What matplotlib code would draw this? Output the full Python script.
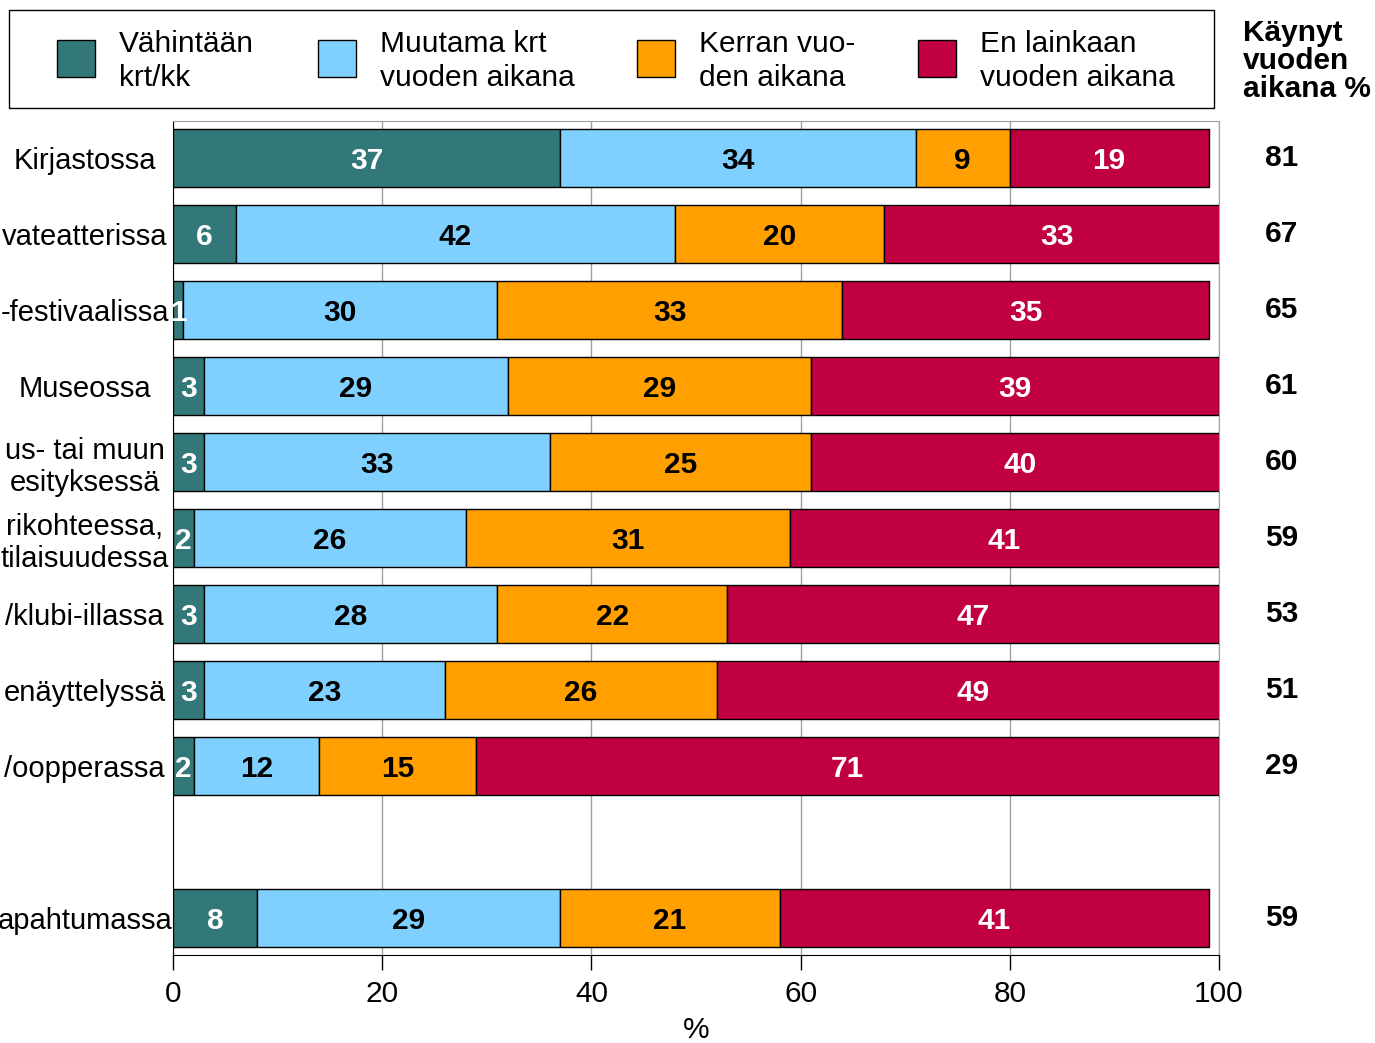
import numpy as np
import matplotlib.pyplot as plt
from matplotlib.patches import Rectangle
from matplotlib.transforms import blended_transform_factory

plt.rcParams['font.family'] = ['Liberation Sans', 'DejaVu Sans']

# survey rows (top to bottom); last row sits after an empty slot
labels = ['Kirjastossa', 'vateatterissa', '-festivaalissa', 'Museossa',
          'us- tai muun\nesityksessä', 'rikohteessa,\ntilaisuudessa',
          '/klubi-illassa', 'enäyttelyssä', '/oopperassa', 'apahtumassa']
rows = [0, 1, 2, 3, 4, 5, 6, 7, 8, 10]

monthly = [37, 6, 1, 3, 3, 2, 3, 3, 2, 8]
few_times = [34, 42, 30, 29, 33, 26, 28, 23, 12, 29]
once = [9, 20, 33, 29, 25, 31, 22, 26, 15, 21]
never = [19, 33, 35, 39, 40, 41, 47, 49, 71, 41]
visited = [81, 67, 65, 61, 60, 59, 53, 51, 29, 59]

series_names = ['Vähintään\nkrt/kk', 'Muutama krt\nvuoden aikana',
                'Kerran vuo-\nden aikana', 'En lainkaan\nvuoden aikana']
colors = ['#337878', '#80d0ff', '#ffa000', '#c00040']
text_colors = ['white', 'black', 'black', 'white']

FS = 21.5
W, H = 1375, 1043
fig = plt.figure(figsize=(W / 100, H / 100), dpi=100)
ax = fig.add_axes([173 / W, 1 - 955 / H, (1219 - 173) / W, (955 - 121) / H])

left = np.zeros(len(rows))
for vals, c, tc in zip([monthly, few_times, once, never], colors, text_colors):
    vals = np.array(vals)
    ax.barh(rows, vals, left=left, height=0.76, color=c,
            edgecolor='black', linewidth=1, zorder=3)
    for r, l, v in zip(rows, left, vals):
        ax.text(l + v / 2, r, str(v), ha='center', va='center_baseline',
                color=tc, fontsize=FS, fontweight='bold', zorder=4)
    left += vals

ax.set_xlim(0, 100)
ax.set_ylim(10.49, -0.49)
ax.set_xticks([0, 20, 40, 60, 80, 100])
ax.set_yticks(rows)
ax.set_yticklabels(labels, fontsize=21, ha='center', multialignment='center')
ax.tick_params(axis='x', length=11, width=1, pad=7, labelsize=FS)
ax.tick_params(axis='y', length=0, pad=63.5)
ax.set_xlabel('%', fontsize=FS, labelpad=6)
ax.xaxis.grid(True, color='#a0a0a0', linewidth=1)
ax.set_axisbelow(True)
ax.spines['top'].set_color('#a0a0a0')
ax.spines['right'].set_color('#a0a0a0')

# share visited during the year, right of the bars
trans = blended_transform_factory(ax.transAxes, ax.transData)
for r, v in zip(rows, visited):
    ax.text(1.06, r, str(v), transform=trans, ha='center', va='center',
            fontsize=FS, fontweight='bold')
fig.text(1243 / W, 1 - 61 / H, 'Käynyt\nvuoden\naikana %', ha='left',
         va='center', fontsize=FS, fontweight='bold', linespacing=1.0)

# legend box across the top
fig.add_artist(Rectangle((9 / W, 1 - 108 / H), (1214 - 9) / W, 98 / H,
                         transform=fig.transFigure, fill=False,
                         edgecolor='black', linewidth=1))
for x, name, c in zip([57, 318, 637, 918], series_names, colors):
    fig.add_artist(Rectangle((x / W, 1 - 77 / H), 38 / W, 37 / H,
                             transform=fig.transFigure, facecolor=c,
                             edgecolor='black', linewidth=1))
    fig.text((x + 62) / W, 1 - 61 / H, name, ha='left', va='center',
             fontsize=FS, linespacing=1.31)

fig.savefig('out.png', dpi=100)
